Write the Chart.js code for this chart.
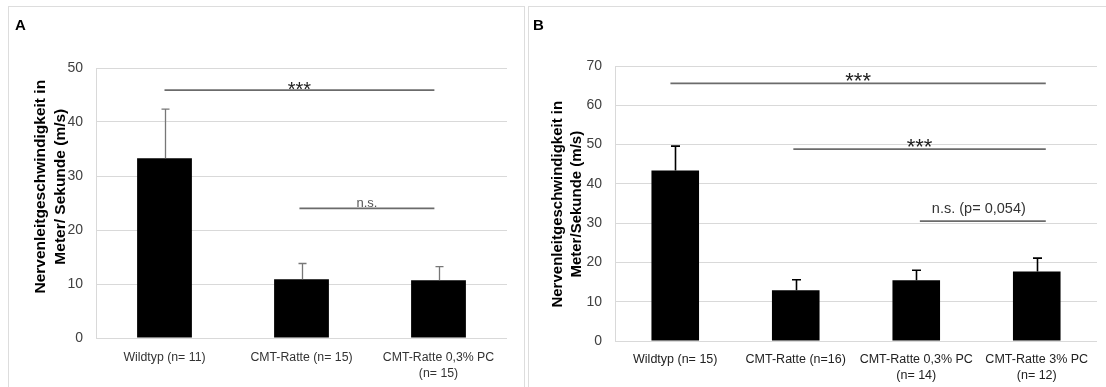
<!DOCTYPE html>
<html>
<head>
<meta charset="utf-8">
<script src="https://cdn.jsdelivr.net/npm/chart.js@4"></script>
<style>
  html, body { margin: 0; padding: 0; background: #fff; }
  body { width: 1106px; height: 387px; position: relative; overflow: hidden; }
  .panel { position: absolute; border: 1px solid #dddddd; border-bottom: none; }
  #boxA { left: 8px; top: 6px; width: 515px; height: 400px; }
  #boxB { left: 528px; top: 6px; width: 600px; height: 400px; border-right: none; }
  canvas { position: absolute; }
  #cA { left: 9px; top: 8px; }
  #cB { left: 529px; top: 8px; }
</style>
</head>
<body>
<div class="panel" id="boxA"></div>
<div class="panel" id="boxB"></div>
<canvas id="cA" width="514" height="379"></canvas>
<canvas id="cB" width="577" height="379"></canvas>
<script>
// ---------- DATA ----------
const categoriesA = [['Wildtyp (n= 11)'], ['CMT-Ratte (n= 15)'], ['CMT-Ratte 0,3% PC', '(n= 15)']];
const meansA = [33.3, 10.9, 10.7];
const errorsA = [9.1, 2.9, 2.5];
const yTicksA = { min: 0, max: 50, step: 10 };
const sigA = [
  { from: 0, to: 1.97, value: 45.9, label: '***' },
  { from: 0.985, to: 1.97, value: 24.0, label: 'n.s.' }
];

const categoriesB = [['Wildtyp (n= 15)'], ['CMT-Ratte (n=16)'], ['CMT-Ratte 0,3% PC', '(n= 14)'], ['CMT-Ratte 3% PC', '(n= 12)']];
const meansB = [43.4, 12.9, 15.45, 17.7];
const errorsB = [6.2, 2.7, 2.55, 3.4];
const yTicksB = { min: 0, max: 70, step: 10 };
const sigB = [
  { from: -0.04, to: 3.075, value: 65.6, label: '***' },
  { from: 0.98, to: 3.075, value: 48.85, label: '***' },
  { from: 2.03, to: 3.075, value: 30.5, label: 'n.s. (p= 0,054)' }
];

const yTitle = ['Nervenleitgeschwindigkeit in', 'Meter/ Sekunde (m/s)'];
const yTitleB = ['Nervenleitgeschwindigkeit in', 'Meter/Sekunde (m/s)'];

// ---------- RENDER ----------
const FAM = "'Liberation Sans', Arial, Helvetica, sans-serif";
Chart.defaults.font.family = FAM;

const annot = {
  id: 'annot',
  afterDatasetsDraw(chart, args, o) {
    const ctx = chart.ctx;
    const x = chart.scales.x, y = chart.scales.y;
    const meta = chart.getDatasetMeta(0);
    const vals = chart.data.datasets[0].data;
    ctx.save();
    // error bars
    ctx.strokeStyle = o.errColor;
    ctx.lineWidth = o.errWidth;
    meta.data.forEach((bar, i) => {
      const px = Math.round(bar.x) + 0.5;
      const yTop = y.getPixelForValue(vals[i] + o.errors[i]);
      ctx.beginPath();
      ctx.moveTo(px, bar.y);
      ctx.lineTo(px, yTop);
      ctx.moveTo(px - o.cap / 2, yTop);
      ctx.lineTo(px + o.cap / 2, yTop);
      ctx.stroke();
    });
    // significance lines
    o.sig.forEach(s => {
      const x1 = x.getPixelForValue(s.from), x2 = x.getPixelForValue(s.to);
      const py = y.getPixelForValue(s.value);
      ctx.strokeStyle = o.sigColor;
      ctx.lineWidth = o.sigWidth;
      ctx.beginPath();
      ctx.moveTo(x1, py);
      ctx.lineTo(x2, py);
      ctx.stroke();
      ctx.textAlign = 'center';
      ctx.textBaseline = 'alphabetic';
      const cx = (x1 + x2) / 2;
      if (s.label === '***') {
        ctx.fillStyle = '#222';
        ctx.font = o.starFont;
        ctx.fillText(s.label, cx, py + o.starDy);
      } else {
        ctx.fillStyle = o.nsColor;
        ctx.font = o.nsFont;
        ctx.fillText(s.label, cx + o.nsDx, py + o.nsDy);
      }
    });
    ctx.restore();
  },
  afterDraw(chart, args, o) {
    const ctx = chart.ctx;
    ctx.save();
    ctx.fillStyle = '#000';
    ctx.font = 'bold 15px ' + FAM;
    ctx.textAlign = 'left';
    ctx.textBaseline = 'alphabetic';
    ctx.fillText(o.letter, o.letterX, 22);
    ctx.font = 'bold ' + o.titleSize + 'px ' + FAM;
    ctx.textAlign = 'center';
    o.title.forEach((t, i) => {
      ctx.save();
      ctx.translate(o.titleX[i], o.titleY);
      ctx.rotate(-Math.PI / 2);
      ctx.fillText(t, 0, 0);
      ctx.restore();
    });
    ctx.restore();
  }
};

function makeChart(id, labels, means, errors, ticks, sig, cfg) {
  return new Chart(document.getElementById(id), {
    type: 'bar',
    data: {
      labels: labels,
      datasets: [{
        data: means,
        backgroundColor: '#000',
        borderWidth: 0,
        barPercentage: cfg.barPct,
        categoryPercentage: 1
      }]
    },
    options: {
      responsive: false,
      animation: false,
      devicePixelRatio: 1,
      layout: { padding: { left: 0, right: cfg.padRight, top: cfg.padTop, bottom: 0 } },
      plugins: {
        legend: { display: false },
        tooltip: { enabled: false },
        annot: Object.assign({ errors: errors, sig: sig }, cfg.annot)
      },
      scales: {
        x: {
          grid: { display: false },
          border: { display: false },
          ticks: {
            color: cfg.xColor,
            font: { family: FAM, size: cfg.xSize, lineHeight: '16px' },
            padding: cfg.xPad,
            maxRotation: 0,
            autoSkip: false
          },
          afterFit(s) { s.height = cfg.xHeight; }
        },
        y: {
          min: ticks.min,
          max: ticks.max,
          ticks: {
            stepSize: ticks.step,
            color: '#404040',
            font: { family: FAM, size: 14 },
            padding: 13
          },
          grid: { color: '#d9d9d9', drawTicks: false, lineWidth: 1 },
          border: { display: true, color: '#d9d9d9' },
          afterFit(s) { s.width = cfg.yWidth; }
        }
      }
    },
    plugins: [annot]
  });
}

makeChart('cA', categoriesA, meansA, errorsA, yTicksA, sigA, {
  barPct: 0.40, padRight: 16, padTop: 60, xHeight: 49, yWidth: 87,
  xColor: '#333', xSize: 12.3, xPad: 4,
  annot: {
    errColor: '#777', errWidth: 1.3, cap: 8,
    sigColor: '#6b6b6b', sigWidth: 1.8,
    starFont: '20px ' + FAM, starDy: 6,
    nsFont: '13px ' + FAM, nsColor: '#555', nsDx: 0, nsDy: -1.5,
    letter: 'A', letterX: 6,
    title: yTitle, titleSize: 15.5, titleX: [35.5, 55.5], titleY: 178.7
  }
});

makeChart('cB', categoriesB, meansB, errorsB, yTicksB, sigB, {
  barPct: 0.395, padRight: 9, padTop: 58, xHeight: 46, yWidth: 86,
  xColor: '#222', xSize: 12.5, xPad: 3,
  annot: {
    errColor: '#000', errWidth: 1.6, cap: 9,
    sigColor: '#6b6b6b', sigWidth: 1.8,
    starFont: '22px ' + FAM, starDy: 5,
    nsFont: '14.5px ' + FAM, nsColor: '#333', nsDx: -4, nsDy: -8,
    letter: 'B', letterX: 4,
    title: yTitleB, titleSize: 15, titleX: [33, 52], titleY: 196.2
  }
});
</script>
</body>
</html>
